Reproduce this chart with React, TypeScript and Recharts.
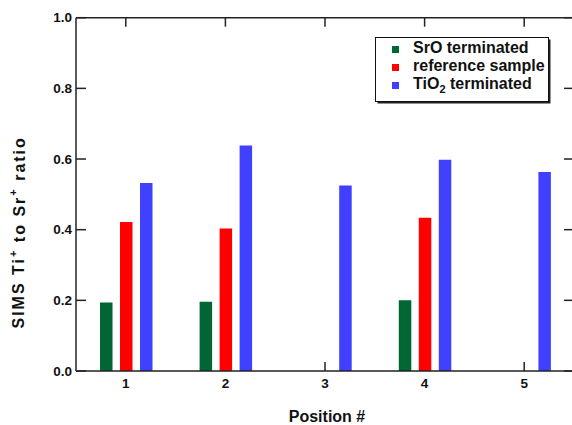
import { Bar, BarChart, Legend, XAxis, YAxis } from "recharts";

const positions = ["1", "2", "3", "4", "5"];
const sroTerminated = [0.194, 0.196, null, 0.2, null];
const referenceSample = [0.422, 0.403, null, 0.434, null];
const tio2Terminated = [0.532, 0.638, 0.525, 0.598, 0.563];
const seriesKeys = ["sro", "reference", "tio2"];
const seriesNames = ["SrO terminated", "reference sample", "TiO2 terminated"];
const seriesColors = ["#006633", "#ff0000", "#4040ff"];
const yTicks = [0, 0.2, 0.4, 0.6, 0.8, 1.0];

const data = positions.map((pos, i) => ({
  pos,
  sro: sroTerminated[i],
  reference: referenceSample[i],
  tio2: tio2Terminated[i],
}));

const FONT = '"Liberation Sans", Arial, Helvetica, sans-serif';
const INK = "#111";
const AXIS = { stroke: "#222", strokeWidth: 1.5 };
const tickText = { fill: INK, fontSize: 13.5, fontWeight: "bold", fontFamily: FONT };
const noLabel = () => "";

// turn digits after letters into subscripts (TiO2 -> TiO₂)
function chem(name: string) {
  const parts = name.split(/(\d+)/);
  return parts.map((p, i) =>
    /^\d+$/.test(p) ? (
      <tspan key={i} dy={4} fontSize={11}>
        {p}
      </tspan>
    ) : (
      <tspan key={i} dy={i > 0 ? -4 : 0}>
        {p}
      </tspan>
    ),
  );
}

function LegendBox({ payload }: { payload?: { value: string; color: string }[] }) {
  // keep the series order, not the alphabetical one
  const items = [...(payload ?? [])].sort(
    (a, b) => seriesNames.indexOf(a.value) - seriesNames.indexOf(b.value),
  );
  return (
    <svg width={180} height={70} style={{ overflow: "visible", display: "block" }}>
      <rect x={2.5} y={2.5} width={173} height={64} fill="#222" />
      <rect x={0.5} y={0.5} width={173} height={64} fill="#fff" stroke="#111" strokeWidth={1} />
      {items.map((item, i) => (
        <g key={item.value}>
          <rect x={17} y={9 + i * 18} width={7} height={7} fill={item.color} />
          <text
            x={38}
            y={16 + i * 18}
            fill={INK}
            fontSize={16}
            fontWeight="bold"
            fontFamily={FONT}
          >
            {chem(item.value)}
          </text>
        </g>
      ))}
    </svg>
  );
}

function YTitle({ viewBox }: { viewBox?: { x: number; y: number; width: number; height: number } }) {
  if (!viewBox) return null;
  const cx = viewBox.x + 19;
  const cy = viewBox.y + viewBox.height / 2 + 38;
  return (
    <text
      x={cx}
      y={cy}
      transform={`rotate(-90 ${cx} ${cy})`}
      textAnchor="middle"
      dominantBaseline="central"
      fill={INK}
      fontSize={16}
      fontWeight="bold"
      fontFamily={FONT}
      letterSpacing={2}
    >
      SIMS Ti
      <tspan dy={-6} fontSize={11}>
        +
      </tspan>
      <tspan dy={6}> to Sr</tspan>
      <tspan dy={-6} fontSize={11}>
        +
      </tspan>
      <tspan dy={6}> ratio</tspan>
    </text>
  );
}

function XTitle({ viewBox }: { viewBox?: { x: number; y: number; width: number; height: number } }) {
  if (!viewBox) return null;
  return (
    <text
      x={viewBox.x + viewBox.width / 2 + 2}
      y={viewBox.y + 51}
      textAnchor="middle"
      fill={INK}
      fontSize={16}
      fontWeight="bold"
      fontFamily={FONT}
    >
      Position #
    </text>
  );
}

export default function App() {
  return (
    <div
      style={{
        position: "fixed",
        left: 0,
        top: 0,
        width: 572,
        height: 425,
        overflow: "hidden",
        background: "#fff",
      }}
    >
      <BarChart
        width={580}
        height={425}
        data={data}
        margin={{ top: 17.7, right: 6, bottom: 0, left: 0 }}
        barSize={12.5}
        barGap={7.5}
      >
        {/* labelled axes */}
        <XAxis
          xAxisId="main"
          dataKey="pos"
          orientation="bottom"
          height={54}
          interval={0}
          tickLine={false}
          tickSize={0}
          tickMargin={7}
          axisLine={AXIS}
          tick={tickText}
          label={<XTitle />}
        />
        <YAxis
          yAxisId="main"
          type="number"
          domain={[0, 1]}
          ticks={yTicks}
          interval={0}
          width={76}
          tickLine={false}
          tickSize={0}
          tickMargin={4}
          axisLine={AXIS}
          tick={tickText}
          tickFormatter={(v: number) => v.toFixed(1)}
          label={<YTitle />}
        />
        {/* inward tick marks on all four sides; the bottom ones sit behind the bars */}
        <XAxis
          xAxisId="bottomTicks"
          dataKey="pos"
          orientation="bottom"
          mirror
          height={1}
          interval={0}
          axisLine={false}
          tickFormatter={noLabel}
          tickSize={9}
          tickLine={AXIS}
          zIndex={0}
        />
        <XAxis
          xAxisId="top"
          dataKey="pos"
          orientation="top"
          mirror
          height={1}
          interval={0}
          axisLine={AXIS}
          tickFormatter={noLabel}
          tickSize={9}
          tickLine={AXIS}
        />
        <YAxis
          yAxisId="leftTicks"
          type="number"
          domain={[0, 1]}
          ticks={yTicks}
          allowDataOverflow
          orientation="left"
          mirror
          width={1}
          interval={0}
          axisLine={false}
          tickFormatter={noLabel}
          tickSize={10}
          tickLine={AXIS}
        />
        <YAxis
          yAxisId="right"
          type="number"
          domain={[0, 1]}
          ticks={yTicks}
          allowDataOverflow
          orientation="right"
          mirror
          width={1}
          interval={0}
          axisLine={AXIS}
          tickFormatter={noLabel}
          tickSize={10}
          tickLine={AXIS}
        />
        {seriesKeys.map((key, i) => (
          <Bar
            key={key}
            xAxisId="main"
            yAxisId="main"
            dataKey={key}
            name={seriesNames[i]}
            fill={seriesColors[i]}
            isAnimationActive={false}
          />
        ))}
        <Legend
          content={<LegendBox />}
          wrapperStyle={{
            position: "absolute",
            left: 375,
            top: 37,
            width: 0,
            height: 0,
            overflow: "visible",
          }}
        />
      </BarChart>
    </div>
  );
}
